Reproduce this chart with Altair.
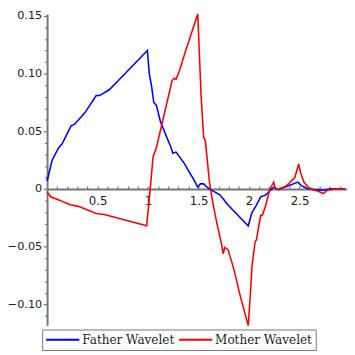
import altair as alt
import pandas as pd

# Father wavelet (blue) samples
father_x = [0, 0.05, 0.116, 0.148, 0.239, 0.271, 0.374, 0.487, 0.519, 0.616,
            0.728, 0.993, 1.012, 1.035, 1.057, 1.083, 1.122, 1.18, 1.228, 1.245,
            1.277, 1.357, 1.454, 1.492, 1.518, 1.55, 1.6, 1.712, 1.79, 1.992,
            2.028, 2.066, 2.115, 2.163, 2.212, 2.244, 2.292, 2.357, 2.485, 2.517,
            2.582, 2.647, 2.743, 2.807, 2.95]
father_y = [0.007, 0.025, 0.036, 0.039, 0.055, 0.056, 0.066, 0.081, 0.081, 0.086,
            0.096, 0.120, 0.100, 0.089, 0.075, 0.0725, 0.0586, 0.046, 0.036, 0.031,
            0.032, 0.0225, 0.008, 0.0017, 0.0045, 0.0045, 0.0003, -0.005, -0.0136, -0.032,
            -0.0206, -0.015, -0.0067, -0.0053, -0.001, 0.0017, -0.0006, 0.0017, 0.006, 0.003,
            0.0003, -0.0005, -0.001, 0.0003, 0.0]

# Mother wavelet (red) samples
mother_x = [0, 0.036, 0.116, 0.229, 0.31, 0.487, 0.567, 0.986, 1.02, 1.05,
            1.083, 1.238, 1.26, 1.277, 1.309, 1.373, 1.492, 1.525, 1.55, 1.567,
            1.608, 1.631, 1.68, 1.728, 1.744, 1.76, 1.792, 1.825, 1.857, 1.905,
            1.992, 2.012, 2.028, 2.06, 2.073, 2.115, 2.131, 2.163, 2.202, 2.244,
            2.26, 2.292, 2.372, 2.453, 2.492, 2.511, 2.543, 2.598, 2.679, 2.737,
            2.776, 2.872, 2.95]
mother_y = [-0.0025, -0.0067, -0.0094, -0.0136, -0.015, -0.0211, -0.022, -0.0317, -0.001, 0.028,
            0.036, 0.094, 0.096, 0.095, 0.102, 0.12, 0.1517, 0.081, 0.045, 0.042,
            0.006, -0.0067, -0.029, -0.048, -0.056, -0.0506, -0.0525, -0.062, -0.072, -0.09,
            -0.1183, -0.0928, -0.0678, -0.0456, -0.044, -0.0228, -0.0228, -0.015, -0.001, 0.006,
            0.0003, -0.0006, 0.003, 0.01, 0.0217, 0.014, 0.006, 0.0003, -0.0017, -0.0039,
            -0.001, 0.0003, 0.0]

series_names = ["Father Wavelet", "Mother Wavelet"]
series_colors = ["#0000ff", "#ff0000"]

x_ticks = [round(0.1 * i, 1) for i in range(1, 30)]
y_ticks = [round(0.01 * i, 2) for i in range(-11, 16)]

x_domain = [0, 2.97]
y_domain = [-0.1183, 0.1517]

W, H = 307, 319
y0_px = H * y_domain[1] / (y_domain[1] - y_domain[0])

df = pd.concat([
    pd.DataFrame({"x": father_x, "y": father_y, "s": series_names[0], "o": range(len(father_x))}),
    pd.DataFrame({"x": mother_x, "y": mother_y, "s": series_names[1], "o": range(len(mother_x))}),
])

axis_gray = "#767676"
tick_font = "DejaVu Sans"
legend_font = "DejaVu Serif"

chart = alt.Chart(df).mark_line(strokeWidth=1.6, clip=False).encode(
    x=alt.X("x:Q", scale=alt.Scale(domain=x_domain, nice=False, zero=False),
            axis=alt.Axis(orient="top", offset=-y0_px, values=x_ticks, title=None,
                          grid=False, tickSize=3, tickColor=axis_gray, tickWidth=1.2,
                          domainColor=axis_gray, domainWidth=2,
                          labelExpr="round(datum.value*10) % 5 == 0 ? format(datum.value, '~g') : ''",
                          labelBaseline="top", labelPadding=-10, labelFlush=False,
                          labelOverlap=False, labelAngle=0, labelFont=tick_font,
                          labelFontSize=12, labelColor="#222222")),
    y=alt.Y("y:Q", scale=alt.Scale(domain=y_domain, nice=False, zero=False),
            axis=alt.Axis(orient="left", values=y_ticks, title=None, grid=False,
                          tickSize={"condition": {"test": "abs(round(datum.value*100) % 5) == 0", "value": 4}, "value": 2.5},
                          tickColor=axis_gray, tickWidth=1.2,
                          domainColor=axis_gray, domainWidth=2,
                          labelExpr="abs(round(datum.value*100) % 5) == 0 ? (round(datum.value*100) == 0 ? '0' : format(datum.value, '.2f')) : ''",
                          labelPadding=1.5, labelFlush=False, labelOverlap=False,
                          labelFont=tick_font, labelFontSize=11.5, labelColor="#222222")),
    color=alt.Color("s:N", scale=alt.Scale(domain=series_names, range=series_colors),
                    legend=alt.Legend(title=None, orient="none", legendX=-5, legendY=323,
                                      direction="horizontal", symbolType="stroke",
                                      symbolSize=1156, symbolStrokeWidth=2,
                                      clipHeight=15,
                                      labelFont=legend_font, labelFontSize=12.3, labelColor="#222222",
                                      labelOffset=2, columnPadding=3, padding=3,
                                      strokeColor=axis_gray)),
    order="o:Q",
).properties(
    width=W, height=H,
    autosize=alt.AutoSizeParams(type="none"),
    padding={"left": 40, "top": 2, "right": 0, "bottom": 26},
).configure_view(stroke=None)

chart.save("out.html", embed_options={"renderer": "svg", "actions": False})
